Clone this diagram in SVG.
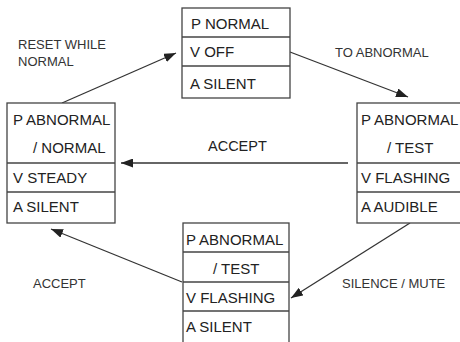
<svg xmlns="http://www.w3.org/2000/svg" width="460" height="342" viewBox="0 0 460 342">
<style>
.box{fill:#fff;stroke:#444;stroke-width:1.3}
.div{stroke:#444;stroke-width:1.3}
.t{font-family:"Liberation Sans",Arial,sans-serif;font-size:15px;fill:#222}
.l{font-family:"Liberation Sans",Arial,sans-serif;font-size:13px;fill:#333}
.c{stroke:#333;stroke-width:1.3;fill:none;marker-end:url(#ah)}
</style>
<defs>
<marker id="ah" markerUnits="userSpaceOnUse" markerWidth="13" markerHeight="9" refX="12" refY="4.5" orient="auto">
<path d="M0,0 L12,4.5 L0,9 z" fill="#222"/>
</marker>
</defs>
<rect width="460" height="342" fill="#fff"/>
<g id="connectors">
<line class="c" x1="62" y1="103" x2="176" y2="53"/>
<line class="c" x1="290" y1="52" x2="408" y2="97"/>
<line class="c" x1="348" y1="163" x2="121" y2="163"/>
<line class="c" x1="410" y1="223" x2="291" y2="298"/>
<line class="c" x1="182" y1="282" x2="51" y2="229"/>
</g>
<g id="labels">
<text class="l" x="18" y="49">RESET WHILE</text>
<text class="l" x="18" y="66">NORMAL</text>
<text class="l" x="335" y="57">TO ABNORMAL</text>
<text class="t" x="208" y="151" style="font-size:14.5px">ACCEPT</text>
<text class="l" x="33" y="288">ACCEPT</text>
<text class="l" x="342" y="288">SILENCE / MUTE</text>
</g>
<g id="node-normal">
<rect class="box" x="182" y="8" width="108" height="90"/>
<line class="div" x1="182" y1="37" x2="290" y2="37"/>
<line class="div" x1="182" y1="66" x2="290" y2="66"/>
<text class="t" x="191" y="29">P NORMAL</text>
<text class="t" x="190" y="57">V OFF</text>
<text class="t" x="190" y="89">A SILENT</text>
</g>
<g id="node-abnormal-normal">
<rect class="box" x="7" y="103" width="108" height="120"/>
<line class="div" x1="7" y1="163" x2="115" y2="163"/>
<line class="div" x1="7" y1="192" x2="115" y2="192"/>
<text class="t" x="13" y="125">P ABNORMAL</text>
<text class="t" x="33" y="153">/ NORMAL</text>
<text class="t" x="13" y="183">V STEADY</text>
<text class="t" x="13" y="212">A SILENT</text>
</g>
<g id="node-abnormal-test-audible">
<rect class="box" x="357" y="103" width="106" height="120"/>
<line class="div" x1="357" y1="163" x2="463" y2="163"/>
<line class="div" x1="357" y1="192" x2="463" y2="192"/>
<text class="t" x="361" y="125">P ABNORMAL</text>
<text class="t" x="387" y="153">/ TEST</text>
<text class="t" x="361" y="183">V FLASHING</text>
<text class="t" x="361" y="212">A AUDIBLE</text>
</g>
<g id="node-abnormal-test-silent">
<rect class="box" x="183" y="223" width="106" height="125"/>
<line class="div" x1="183" y1="252" x2="289" y2="252"/>
<line class="div" x1="183" y1="282" x2="289" y2="282"/>
<line class="div" x1="183" y1="311" x2="289" y2="311"/>
<text class="t" x="186" y="245">P ABNORMAL</text>
<text class="t" x="213" y="274">/ TEST</text>
<text class="t" x="186" y="303">V FLASHING</text>
<text class="t" x="186" y="332">A SILENT</text>
</g>
</svg>
